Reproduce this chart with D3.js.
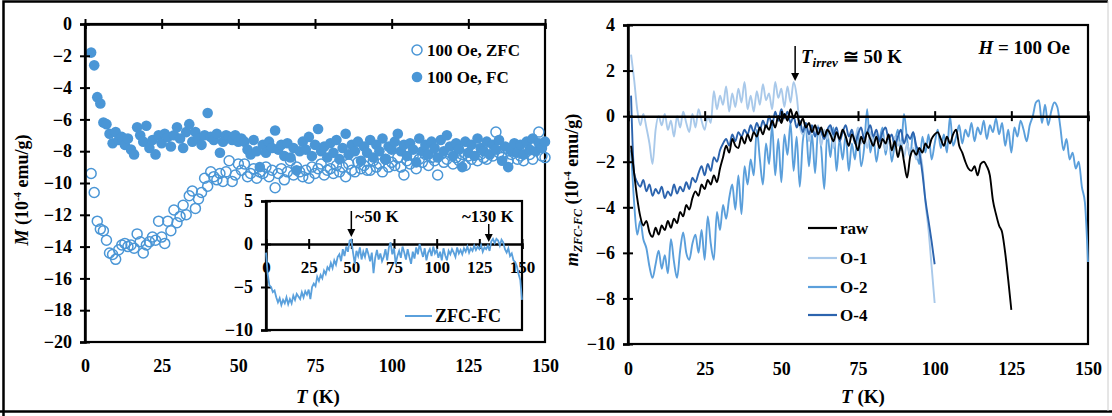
<!DOCTYPE html>
<html><head><meta charset="utf-8">
<script src="https://cdn.jsdelivr.net/npm/d3@7"></script>
<style>body{margin:0;background:#fff}svg{display:block}</style>
</head><body>
<svg id="c" width="1112" height="416"></svg>
<script>
// ---------------- DATA ----------------
const tickT = [0, 25, 50, 75, 100, 125, 150];
const tickM = [0, -2, -4, -6, -8, -10, -12, -14, -16, -18, -20];
const tickInsetY = [5, 0, -5, -10];
const tickMzfc = [4, 2, 0, -2, -4, -6, -8, -10];

// Left panel: T = 2..150 K (step 1 K)
const mainStartT = 2;
const fcValues = [
 -1.8,-2.6,-4.6,-5.0,-6.2,-6.3,-6.9,-7.5,-6.8,-7.3,
 -7.1,-7.6,-7.2,-7.9,-8.2,-6.5,-7.0,-7.4,-6.4,-7.8,
 -7.3,-8.2,-7.0,-7.5,-6.9,-7.1,-7.7,-7.0,-6.5,-7.2,
 -7.8,-6.8,-6.3,-7.4,-6.8,-7.2,-7.6,-7.0,-5.6,-7.1,
 -7.3,-6.9,-8.1,-7.4,-7.0,-7.1,-7.3,-7.0,-7.4,-7.2,
 -7.4,-7.9,-8.2,-7.3,-8.0,-9.0,-7.6,-8.1,-7.4,-7.8,
 -6.7,-7.9,-7.6,-8.3,-7.5,-8.4,-7.8,-9.2,-8.0,-7.4,
 -7.9,-7.1,-8.3,-7.6,-6.6,-8.0,-7.7,-8.4,-7.5,-8.1,
 -7.3,-8.5,-7.8,-6.9,-8.2,-7.6,-8.0,-7.4,-8.6,-7.7,
 -8.1,-7.3,-8.4,-7.6,-8.0,-7.2,-8.5,-7.7,-7.9,-7.4,
 -6.9,-8.0,-7.6,-8.3,-7.5,-7.9,-8.7,-7.2,-8.0,-7.6,
 -8.2,-7.4,-7.8,-8.4,-7.3,-8.0,-7.0,-7.7,-8.3,-7.5,
 -7.9,-9.0,-7.4,-8.1,-7.6,-8.3,-7.2,-7.8,-8.0,-7.4,
 -8.2,-7.6,-7.9,-7.3,-8.6,-7.7,-9.0,-8.0,-7.5,-8.1,
 -7.6,-8.2,-7.4,-7.9,-7.2,-8.0,-7.5,-7.8,-7.4
];
const zfcValues = [
 -9.4,-10.6,-12.4,-12.9,-13.0,-13.6,-14.4,-14.5,-14.8,-14.2,
 -13.9,-13.8,-14.0,-13.9,-14.1,-13.2,-13.7,-14.4,-13.9,-13.7,
 -13.4,-13.6,-12.4,-13.4,-13.8,-12.4,-13.0,-11.7,-12.5,-12.1,
 -11.4,-12.0,-10.8,-10.5,-11.6,-11.0,-10.6,-9.7,-10.2,-9.3,
 -9.6,-9.8,-9.4,-9.9,-9.3,-8.6,-9.9,-9.5,-8.8,-9.2,
 -8.8,-9.6,-9.4,-9.1,-9.7,-9.3,-9.4,-9.0,-9.6,-9.2,
 -10.3,-9.4,-9.1,-9.8,-9.3,-8.6,-9.5,-9.0,-9.3,-9.6,
 -9.2,-9.7,-9.0,-9.4,-9.1,-8.8,-9.5,-9.2,-9.1,-9.4,
 -8.9,-9.3,-9.0,-9.6,-8.8,-9.2,-9.3,-8.7,-9.1,-8.9,
 -9.2,-9.2,-8.6,-9.0,-8.8,-9.3,-8.5,-9.0,-8.7,-8.9,
 -8.4,-9.0,-9.5,-8.6,-8.8,-8.3,-9.1,-8.5,-8.7,-8.2,
 -8.9,-8.4,-8.6,-9.5,-8.2,-8.7,-8.5,-8.1,-8.8,-8.4,
 -8.6,-8.2,-8.9,-8.3,-8.5,-7.9,-8.6,-8.2,-8.4,-8.5,
 -8.0,-8.3,-6.8,-8.1,-8.4,-7.8,-8.6,-8.2,-8.0,-8.5,
 -8.3,-8.6,-7.9,-8.2,-8.5,-7.6,-6.8,-8.3,-8.4
];
// Inset ZFC-FC: T = 0..150 K
const insetStartT = 0;
const insetValues = [
 -1.0,-3.5,-4.8,-5.0,-5.6,-5.4,-6.2,-6.8,-6.3,-7.1,
 -6.5,-6.9,-6.2,-7.0,-6.4,-6.9,-6.0,-6.5,-5.8,-6.1,
 -6.4,-5.6,-6.2,-5.5,-5.9,-5.3,-6.4,-5.0,-4.6,-4.9,
 -3.8,-4.3,-3.6,-4.0,-3.1,-3.5,-2.7,-3.0,-2.2,-2.8,
 -1.9,-2.4,-1.5,-1.2,-2.0,-0.6,-1.4,-0.3,-0.9,0.4,
 0.5,-1.0,-2.3,-0.8,-1.4,-0.4,-1.8,-0.9,-1.5,-0.5,
 -1.2,-2.0,-1.0,-3.4,-1.6,-0.7,-1.8,-1.1,-2.0,-1.5,
 -0.6,-1.9,-0.4,0.2,-1.2,-0.5,-2.3,-1.4,-0.8,-1.6,
 -0.3,-1.0,-1.8,-0.6,-1.5,-2.3,-0.9,-1.7,-0.4,-1.2,
 0.0,-0.8,-1.5,-0.5,-1.9,-1.0,-0.6,-1.4,-0.3,-1.1,
 -0.7,-1.6,-0.9,-1.9,-0.5,-1.3,-1.9,-0.8,-1.2,-0.6,
 -1.0,-1.5,-0.4,-1.1,-0.7,-1.2,-0.5,-0.9,-0.3,-1.0,
 -0.5,-0.8,-0.2,-0.7,-0.3,-0.6,-0.1,-0.9,-0.4,-0.6,
 -0.2,-0.8,0.3,0.6,0.1,0.6,0.4,-0.2,0.5,0.2,
 -0.6,-1.0,-0.5,-1.4,-1.1,-1.9,-2.1,-2.6,-3.5,-4.2,
 -6.5
];
// Right panel: T = 1.. K (step 1 K)
const rightStartT = 1;
const rawValues = [
 -1.3,-2.5,-3.6,-4.4,-4.8,-4.6,-5.1,-5.3,-4.9,-5.2,
 -4.8,-5.0,-4.6,-4.9,-4.5,-4.7,-4.2,-4.4,-3.9,-4.1,
 -3.6,-3.3,-3.5,-3.0,-3.2,-2.8,-3.0,-2.6,-2.9,-2.3,
 -1.8,-1.3,-1.6,-1.0,-1.3,-1.4,-0.9,-1.2,-0.8,-1.1,
 -0.7,-0.9,-0.5,-0.8,-0.4,-0.6,-0.2,-0.5,0.0,-0.3,
 0.1,-0.2,0.3,-0.1,0.2,-0.4,-0.1,-0.5,-0.3,-0.7,
 -0.4,-0.8,-0.5,-0.9,-0.6,-0.8,-1.1,-0.7,-1.0,-0.6,
 -0.9,-1.3,-0.8,-1.1,-1.5,-0.9,-1.2,-0.7,-1.0,-1.3,
 -0.9,-1.4,-1.0,-1.2,-0.8,-1.5,-1.1,-1.8,-1.3,-2.0,
 -2.7,-1.8,-1.5,-1.7,-1.4,-1.6,-1.2,-1.4,-1.0,-0.8,
 -0.7,-1.0,-1.3,-0.9,-1.2,-0.8,-0.6,-1.3,-1.6,-2.0,
 -2.3,-2.4,-2.2,-2.6,-2.1,-2.0,-2.2,-2.6,-3.7,-4.3,
 -4.8,-5.1,-6.0,-7.2,-8.5
];
const o1Values = [
 2.7,1.6,0.3,-0.4,0.1,-0.5,-1.2,-2.1,-0.6,0.0,
 -0.4,0.1,-0.6,-0.2,-0.9,0.0,-0.5,0.2,-0.3,-0.7,
 0.1,-0.5,0.3,-0.2,-0.6,0.0,-0.3,1.1,0.3,0.9,
 0.5,1.3,0.2,1.0,0.4,1.2,0.6,1.5,0.3,0.9,
 0.2,1.1,0.5,1.4,0.7,1.0,0.3,1.5,0.8,1.2,
 0.4,1.3,0.6,1.5,0.9,-0.4,-0.8,-0.3,-1.1,-0.5,
 -0.9,-0.4,-1.3,-0.6,-1.0,-0.5,-1.4,-0.7,-1.1,-0.6,
 -0.9,-1.3,-0.6,-1.0,-0.5,-1.2,-0.8,-1.4,-0.7,-1.1,
 -0.8,-1.3,-0.9,-1.5,-1.0,-1.6,-0.9,-1.3,-1.1,-1.8,
 -1.2,-1.7,-1.4,-1.9,-1.6,-2.2,-3.8,-5.0,-6.6,-8.2
];
const o2Values = [
 -1.5,-3.8,-5.2,-4.6,-5.4,-5.8,-6.6,-7.1,-6.5,-5.9,
 -6.7,-6.1,-6.9,-5.4,-6.4,-7.1,-5.9,-5.1,-6.0,-6.3,
 -5.6,-5.2,-6.0,-5.0,-6.3,-4.4,-5.6,-6.3,-4.2,-5.0,
 -3.9,-4.5,-3.6,-3.0,-4.1,-2.6,-4.3,-2.2,-3.0,-1.9,
 -2.6,-0.6,-1.9,-3.0,-1.2,-2.1,-0.4,-2.6,-1.0,-2.9,
 -0.8,-1.7,-0.3,-2.4,-0.9,-3.1,-1.1,-0.5,-2.2,-0.8,
 -2.5,-0.6,-1.4,-3.2,-0.7,-1.8,-0.5,-2.4,-1.0,-1.9,
 -0.8,-2.4,-1.2,-1.9,-0.6,-2.2,-1.4,0.3,-1.6,-0.9,
 -2.0,-1.1,-0.5,-1.7,-0.8,-2.0,-1.2,-0.6,-1.5,0.1,
 -1.0,-1.8,-0.7,-1.5,-2.1,-0.9,-1.6,-0.8,-1.9,-1.2,
 -0.6,-1.4,-0.8,-1.6,0.0,-1.3,-0.9,-0.4,-1.2,-0.6,
 -0.9,-0.3,-1.1,-0.5,-0.8,-0.2,-1.0,-0.4,-0.7,-0.1,
 -0.8,-0.3,-1.3,-0.6,-1.6,-0.5,-0.9,-0.2,-0.6,-1.1,
 -0.4,0.0,0.6,0.7,-0.3,0.5,-0.4,0.2,0.6,0.4,
 -0.5,-1.5,-1.0,-1.9,-1.6,-2.3,-2.0,-3.1,-3.8,-6.4
];
const o4Values = [
 0.9,-2.5,-2.9,-3.1,-2.8,-3.3,-3.0,-3.5,-3.2,-3.4,
 -3.1,-3.6,-3.3,-3.5,-3.0,-3.4,-3.1,-3.3,-2.9,-3.2,
 -2.7,-2.9,-2.5,-2.2,-2.6,-2.1,-2.4,-1.8,-2.0,-1.5,
 -1.2,-1.0,-1.3,-0.8,-1.1,-0.7,-0.9,-0.6,-0.8,-0.4,
 -0.7,-0.3,-0.6,-0.2,-0.5,0.0,-0.4,0.2,-0.2,0.3,
 -0.1,0.2,-0.3,0.0,-0.5,-0.2,-0.7,-0.3,-0.8,-0.4,
 -0.9,-0.5,-0.7,-1.0,-0.6,-0.4,-0.8,-0.5,-1.1,-0.7,
 -0.4,-0.9,-0.6,-1.2,-0.8,-0.5,-1.0,-0.7,-0.4,-0.9,
 -0.6,-1.1,-0.7,-0.5,-1.0,-0.8,-1.3,-0.9,-0.6,-1.2,
 -0.8,-1.0,-0.7,-1.3,-1.6,-2.5,-3.7,-4.6,-5.5,-6.5
];
const seriesNames = ["raw", "O-1", "O-2", "O-4"];

// ---------------- DRAWING ----------------
const FONT = "'Liberation Serif','Times New Roman',serif";
const BLUE = "#4a96d6";
const svg = d3.select("#c").style("font-family", FONT);
const colors = {"raw":"#000000","O-1":"#a9c9ea","O-2":"#5b9fdb","O-4":"#2c64ae"};

function toPts(start, vals){ return vals.map((v,i)=>({t:start+i, v:v})); }

// outer frame
svg.append("rect").attr("x",0).attr("y",0).attr("width",1112).attr("height",416).attr("fill","#fff");
svg.append("path").attr("d","M3.5,416 V1.5 H1108").attr("fill","none").attr("stroke","#000").attr("stroke-width",2.5);
svg.append("line").attr("x1",0).attr("x2",1112).attr("y1",411.5).attr("y2",411.5).attr("stroke","#000").attr("stroke-width",2.5);
svg.append("line").attr("x1",1108).attr("x2",1108).attr("y1",1).attr("y2",411).attr("stroke","#ccc").attr("stroke-width",1);

function crossTicks(g, horizontal){
  g.selectAll(".tick line").attr(horizontal ? "y1" : "x1", horizontal ? -5 : 5);
}

// ===== LEFT PANEL =====
const xL = d3.scaleLinear().domain([0,150]).range([85,545]);
const yL = d3.scaleLinear().domain([-20,0]).range([342,24]);

svg.append("rect").attr("x",85).attr("y",24).attr("width",460).attr("height",318)
  .attr("fill","none").attr("stroke","#000").attr("stroke-width",2.2);

// points
const zfcPts = toPts(mainStartT, zfcValues), fcPts = toPts(mainStartT, fcValues);
svg.append("g").selectAll("circle").data(zfcPts).join("circle")
  .attr("cx",d=>xL(d.t)).attr("cy",d=>yL(d.v)).attr("r",5)
  .attr("fill","none").attr("stroke",BLUE).attr("stroke-width",1.5);
svg.append("g").selectAll("circle").data(fcPts).join("circle")
  .attr("cx",d=>xL(d.t)).attr("cy",d=>yL(d.v)).attr("r",5.3)
  .attr("fill",BLUE);

// y axis
const gyL = svg.append("g").attr("transform","translate(85,0)")
  .call(d3.axisLeft(yL).tickValues(tickM).tickSize(5).tickPadding(8).tickFormat(d3.format("d")));
crossTicks(gyL,false);
// zero axis with ticks (no labels)
const gzL = svg.append("g").attr("transform",`translate(0,${yL(0)})`)
  .call(d3.axisBottom(xL).tickValues(tickT).tickSize(5).tickFormat(""));
crossTicks(gzL,true);
// bottom labels
const gxL = svg.append("g").attr("transform","translate(0,342)")
  .call(d3.axisBottom(xL).tickValues(tickT).tickSize(0).tickPadding(17));
gxL.select(".domain").remove();

// ===== INSET =====
const xI = d3.scaleLinear().domain([0,150]).range([266,522]);
const yI = d3.scaleLinear().domain([-10,5]).range([330,201]);
svg.append("rect").attr("x",266).attr("y",201).attr("width",256).attr("height",129)
  .attr("fill","#fff").attr("stroke","#000").attr("stroke-width",2.2);
const gyI = svg.append("g").attr("transform","translate(266,0)")
  .call(d3.axisLeft(yI).tickValues(tickInsetY).tickSize(5).tickPadding(8));
crossTicks(gyI,false);
const gzI = svg.append("g").attr("transform",`translate(0,${yI(0)})`)
  .call(d3.axisBottom(xI).tickValues(tickT).tickSize(5).tickPadding(12));
crossTicks(gzI,true);
gzI.selectAll(".tick text").attr("font-size",17);
const insetLine = d3.line().x(d=>xI(d.t)).y(d=>yI(d.v));
svg.append("path").datum(toPts(insetStartT, insetValues)).attr("d",insetLine)
  .attr("fill","none").attr("stroke","#5aa0dc").attr("stroke-width",1.8);
// inset legend
svg.append("line").attr("x1",405).attr("x2",432).attr("y1",316).attr("y2",316).attr("stroke","#5aa0dc").attr("stroke-width",2);
svg.append("text").attr("x",435).attr("y",322).text("ZFC-FC").attr("font-size",18).attr("font-weight","bold");

// inset arrows
function arrow(x, y1, y2){
  svg.append("line").attr("x1",x).attr("x2",x).attr("y1",y1).attr("y2",y2-6).attr("stroke","#000").attr("stroke-width",1.5);
  svg.append("path").attr("d",`M${x-4},${y2-8} L${x+4},${y2-8} L${x},${y2} Z`).attr("fill","#000");
}
arrow(xI(50), 211, 237);
svg.append("text").attr("x",xI(50)+4).attr("y",222).text("~50 K").attr("font-size",17).attr("font-weight","bold");
arrow(xI(130.5), 224, 242);
svg.append("text").attr("x",xI(130)).attr("y",222).attr("text-anchor","middle").text("~130 K").attr("font-size",17).attr("font-weight","bold");

// legend main
svg.append("circle").attr("cx",417).attr("cy",50).attr("r",5).attr("fill","none").attr("stroke",BLUE).attr("stroke-width",1.5);
svg.append("text").attr("x",427).attr("y",56).text("100 Oe, ZFC").attr("font-size",17).attr("font-weight","bold");
svg.append("circle").attr("cx",417).attr("cy",77).attr("r",5.3).attr("fill",BLUE);
svg.append("text").attr("x",427).attr("y",83).text("100 Oe, FC").attr("font-size",17).attr("font-weight","bold");

// axis titles left
const ylab = svg.append("text").attr("transform","translate(28,190) rotate(-90)").attr("text-anchor","middle")
  .attr("font-size",18).attr("font-weight","bold");
ylab.append("tspan").attr("font-style","italic").text("M");
ylab.append("tspan").text(" (10");
ylab.append("tspan").attr("font-size",11).attr("dy",-7).text("-4");
ylab.append("tspan").attr("dy",7).text(" emu/g)");
const xlab = svg.append("text").attr("x",318).attr("y",403).attr("text-anchor","middle").attr("font-size",19).attr("font-weight","bold");
xlab.append("tspan").attr("font-style","italic").text("T");
xlab.append("tspan").text(" (K)");

// ===== RIGHT PANEL =====
const xR = d3.scaleLinear().domain([0,150]).range([628,1088]);
const yR = d3.scaleLinear().domain([-10,4]).range([344,25]);
svg.append("rect").attr("x",628).attr("y",25).attr("width",460).attr("height",319)
  .attr("fill","none").attr("stroke","#000").attr("stroke-width",2.2);

const lineR = d3.line().x(d=>xR(d.t)).y(d=>yR(d.v)).curve(d3.curveMonotoneX);
const seriesData = {"raw":rawValues,"O-1":o1Values,"O-2":o2Values,"O-4":o4Values};
["O-2","O-1","O-4","raw"].forEach(n=>{
  svg.append("path").datum(toPts(rightStartT, seriesData[n])).attr("d",lineR)
    .attr("fill","none").attr("stroke",colors[n]).attr("stroke-width",1.9);
});

const gyR = svg.append("g").attr("transform","translate(628,0)")
  .call(d3.axisLeft(yR).tickValues(tickMzfc).tickSize(5).tickPadding(8));
crossTicks(gyR,false);
const gzR = svg.append("g").attr("transform",`translate(0,${yR(0)})`)
  .call(d3.axisBottom(xR).tickValues(tickT).tickSize(5).tickFormat(""));
crossTicks(gzR,true);
const gxR = svg.append("g").attr("transform","translate(0,344)")
  .call(d3.axisBottom(xR).tickValues(tickT).tickSize(0).tickPadding(18));
gxR.select(".domain").remove();

// right legend
seriesNames.forEach((n,i)=>{
  const y = [228,258,287,315][i];
  svg.append("line").attr("x1",808).attr("x2",837).attr("y1",y).attr("y2",y).attr("stroke",colors[n]).attr("stroke-width",2.2);
  svg.append("text").attr("x",840).attr("y",y+6).text(n).attr("font-size",17).attr("font-weight","bold");
});

// annotations right
arrow(xR(54.5), 46, 81);
const tir = svg.append("text").attr("x",801).attr("y",63).attr("font-size",19).attr("font-weight","bold");
tir.append("tspan").attr("font-style","italic").text("T");
tir.append("tspan").attr("font-style","italic").attr("font-size",13).attr("dy",4).text("irrev");
tir.append("tspan").attr("dy",-4).text(" \u2245 50 K");
const hl = svg.append("text").attr("x",1070).attr("y",54).attr("text-anchor","end").attr("font-size",19).attr("font-weight","bold");
hl.append("tspan").attr("font-style","italic").text("H");
hl.append("tspan").text(" = 100 Oe");

const ylabR = svg.append("text").attr("transform","translate(578,190) rotate(-90)").attr("text-anchor","middle")
  .attr("font-size",18).attr("font-weight","bold");
ylabR.append("tspan").attr("font-style","italic").text("m");
ylabR.append("tspan").attr("font-style","italic").attr("font-size",12).attr("dy",4).text("ZFC-FC");
ylabR.append("tspan").attr("dy",-4).text(" (10");
ylabR.append("tspan").attr("font-size",11).attr("dy",-7).text("-4");
ylabR.append("tspan").attr("dy",7).text(" emu/g)");
const xlabR = svg.append("text").attr("x",863).attr("y",403).attr("text-anchor","middle").attr("font-size",19).attr("font-weight","bold");
xlabR.append("tspan").attr("font-style","italic").text("T");
xlabR.append("tspan").text(" (K)");

// axis styling
svg.selectAll(".domain").attr("stroke","#000").attr("stroke-width",2.5);
svg.selectAll(".tick line").attr("stroke","#000").attr("stroke-width",2);
svg.selectAll(".tick text").attr("font-family",FONT).attr("font-weight","bold").attr("fill","#000")
  .each(function(){ if(!this.getAttribute("font-size")) this.setAttribute("font-size",18); });
svg.selectAll("g").filter(function(){return this.getAttribute("font-size");}).attr("font-size",null);
</script>
</body></html>
